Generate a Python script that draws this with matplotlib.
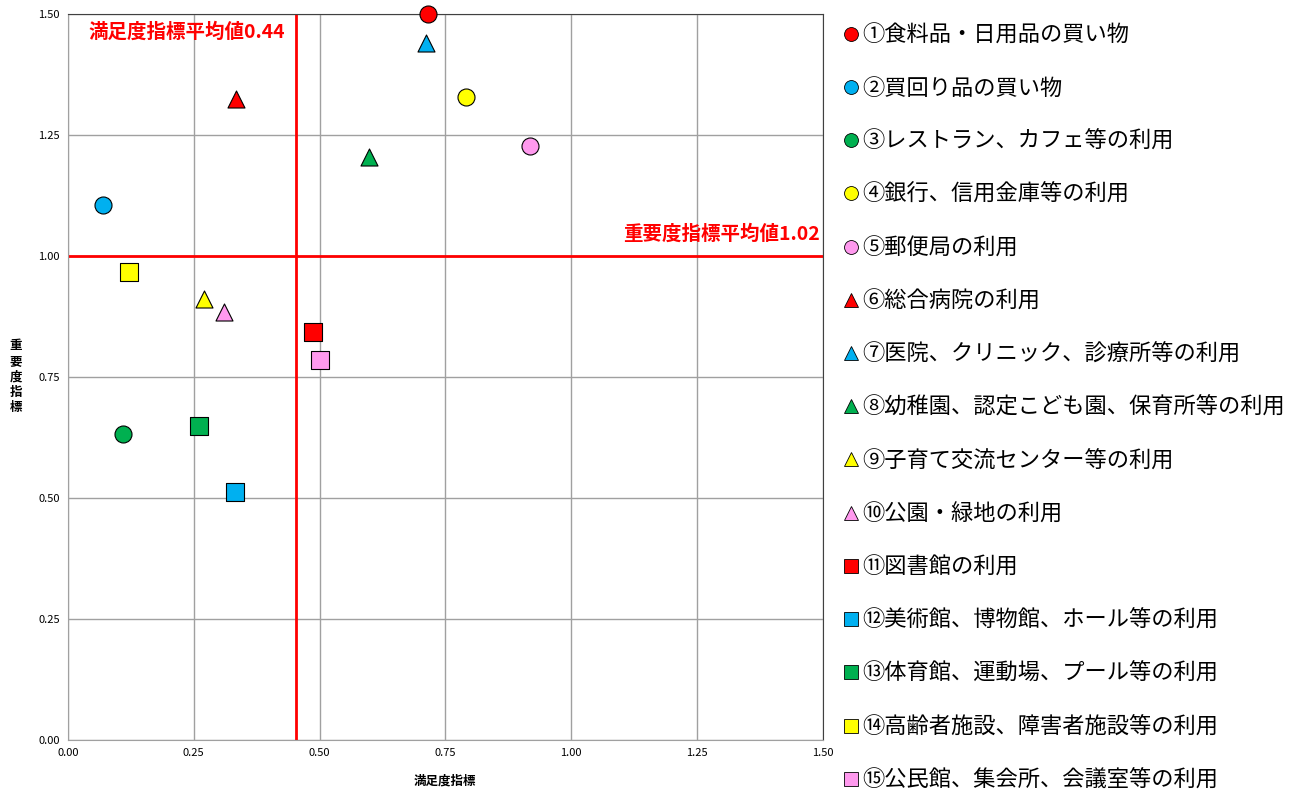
import matplotlib
matplotlib.use('Agg')
import matplotlib.pyplot as plt
from matplotlib.lines import Line2D

plt.rcParams['font.family'] = ['Noto Sans CJK JP', 'DejaVu Sans']

labels = ['①食料品・日用品の買い物', '②買回り品の買い物', '③レストラン、カフェ等の利用',
          '④銀行、信用金庫等の利用', '⑤郵便局の利用', '⑥総合病院の利用',
          '⑦医院、クリニック、診療所等の利用', '⑧幼稚園、認定こども園、保育所等の利用',
          '⑨子育て交流センター等の利用', '⑩公園・緑地の利用', '⑪図書館の利用',
          '⑫美術館、博物館、ホール等の利用', '⑬体育館、運動場、プール等の利用',
          '⑭高齢者施設、障害者施設等の利用', '⑮公民館、集会所、会議室等の利用']
satisfaction = [0.716, 0.070, 0.110, 0.791, 0.918, 0.334, 0.712, 0.598,
                0.271, 0.311, 0.488, 0.331, 0.261, 0.122, 0.500]
importance = [1.500, 1.105, 0.633, 1.329, 1.227, 1.324, 1.441, 1.204,
              0.911, 0.885, 0.843, 0.512, 0.648, 0.967, 0.785]
markers = ['o'] * 5 + ['^'] * 5 + ['s'] * 5
colors = ['#FF0000', '#00B0F0', '#00B050', '#FFFF00', '#FF99EE'] * 3

sat_avg_pos = 0.454
imp_avg_pos = 1.0
sat_avg_label = '満足度指標平均値0.44'
imp_avg_label = '重要度指標平均値1.02'

fig = plt.figure(figsize=(12.9, 7.92), dpi=100)
ax = fig.add_axes([0.0527, 0.0657, 0.585, 0.9166])

ax.set_xlim(0, 1.5)
ax.set_ylim(0, 1.5)
ticks = [0, 0.25, 0.5, 0.75, 1.0, 1.25, 1.5]
ax.set_xticks(ticks)
ax.set_yticks(ticks)
ax.set_xticklabels(['%.2f' % t for t in ticks], fontsize=8)
ax.set_yticklabels(['%.2f' % t for t in ticks], fontsize=8)
ax.tick_params(length=0, pad=6)
ax.grid(True, color='#A0A0A0', linewidth=1)
ax.set_axisbelow(True)
for s in ['left', 'bottom']:
    ax.spines[s].set_color('#A0A0A0')
for s in ['top', 'right']:
    ax.spines[s].set_color('#404040')

ax.axvline(sat_avg_pos, color='#FF0000', linewidth=2, zorder=2)
ax.axhline(imp_avg_pos, color='#FF0000', linewidth=2, zorder=2)
ax.text(0.04, 1.462, sat_avg_label, color='#FF0000', fontsize=14,
        fontweight='bold', va='center', ha='left')
ax.text(1.495, 1.045, imp_avg_label, color='#FF0000', fontsize=14,
        fontweight='bold', va='center', ha='right')

handles = []
for i in range(len(labels)):
    ax.scatter(satisfaction[i], importance[i], marker=markers[i], s=150,
               c=colors[i], edgecolors='black', linewidths=0.8, zorder=5,
               clip_on=False)
    handles.append(Line2D([], [], marker=markers[i], linestyle='none',
                          markersize=10, markerfacecolor=colors[i],
                          markeredgecolor='black', markeredgewidth=0.6))

ax.set_xlabel('満足度指標', fontsize=9, fontweight='bold', labelpad=12)
ax.set_ylabel('重\n要\n度\n指\n標', fontsize=9, fontweight='bold', rotation=0,
              linespacing=1.25, labelpad=16, va='center')

fig.legend(handles, labels, loc='upper left', bbox_to_anchor=(0.639, 0.990),
           frameon=False, fontsize=16, labelspacing=1.36, handletextpad=0.0,
           handlelength=1.0, borderaxespad=0.3)

fig.savefig('out.png', dpi=100)
